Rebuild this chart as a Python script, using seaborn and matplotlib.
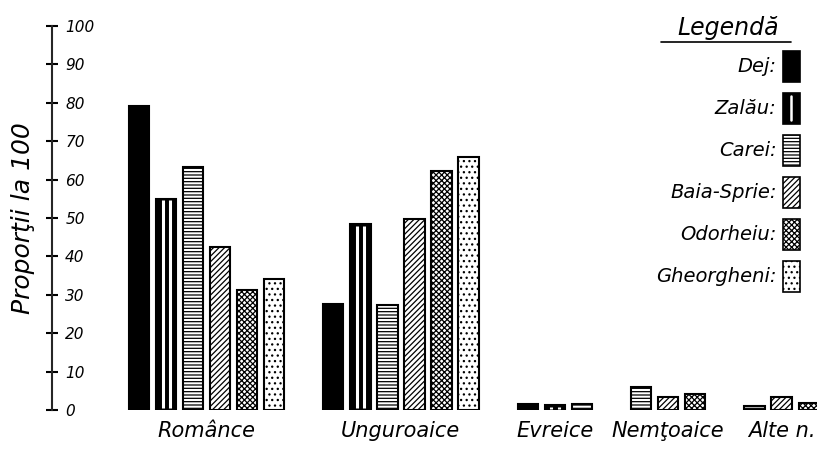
import numpy as np
import pandas as pd
import matplotlib
matplotlib.use('Agg')
import matplotlib.pyplot as plt
import seaborn as sns
from matplotlib.patches import Patch, Rectangle
from matplotlib.lines import Line2D
from matplotlib.legend_handler import HandlerPatch

# groups along the x axis
groups = ['Românce', 'Unguroaice', 'Evreice', 'Nemţoaice', 'Alte n.']
# towns (hue / legend)
towns = ['Dej', 'Zalău', 'Carei', 'Baia-Sprie', 'Odorheiu', 'Gheorgheni']

# proportion per 100 in each group, None = no bar drawn
dej        = [79.2, 27.6, 1.5, None, None]
zalau      = [55.0, 48.4, 1.2, None, None]
carei      = [63.3, 27.3, 1.5, 6.0, 1.0]
baia       = [42.4, 49.7, None, 3.5, 3.5]
odorheiu   = [31.3, 62.2, None, 4.2, 1.8]
gheorgheni = [34.1, 65.9, None, None, None]

yticks = [0, 10, 20, 30, 40, 50, 60, 70, 80, 90, 100]

values = dict(zip(towns, [dej, zalau, carei, baia, odorheiu, gheorgheni]))

#%%
# long table: only the bars that exist, packed side by side inside each group
rows = []
centers = []
slot = 0.0
gap = 1.2
for gi, g in enumerate(groups):
    start = slot
    for t in towns:
        v = values[t][gi]
        if v is None:
            continue
        rows.append({'group': g, 'town': t, 'pos': round(slot, 2), 'value': v})
        slot += 1
    centers.append((start + slot - 1) / 2)
    slot += gap
df = pd.DataFrame(rows)
pos_town = {r['pos']: r['town'] for r in rows}

#%%
sns.set_style('white')
plt.rcParams['font.family'] = ['DejaVu Sans']
plt.rcParams['font.style'] = 'italic'
plt.rcParams['hatch.linewidth'] = 0.9
for k in ['text.color', 'axes.labelcolor', 'xtick.color', 'ytick.color']:
    plt.rcParams[k] = 'black'

fig = plt.figure(figsize=(8.17, 4.5), dpi=100)
ax = fig.add_axes([52 / 817, 40 / 450, 765 / 817, 384 / 450])

sns.barplot(data=df, x='pos', y='value', hue='town', hue_order=towns,
            palette=['black'] * len(towns), native_scale=True, dodge=False,
            width=0.75, errorbar=None, legend=False, ax=ax)

styles = {
    'Dej': dict(fc='black', hatch=None),
    'Zalău': dict(fc='black', hatch=None),
    'Carei': dict(fc='white', hatch='-----'),
    'Baia-Sprie': dict(fc='white', hatch='//////'),
    'Odorheiu': dict(fc='white', hatch='xxxxxx'),
    'Gheorgheni': dict(fc='white', hatch='...'),
}

for p in ax.patches:
    x0, w, h = p.get_x(), p.get_width(), p.get_height()
    town = pos_town[round(x0 + w / 2, 2)]
    st = styles[town]
    p.set_facecolor(st['fc'])
    p.set_edgecolor('black')
    p.set_linewidth(1.5)
    p.set_hatch(st['hatch'])
    if town == 'Zalău':
        # white stripes inside the black bar
        ax.vlines([x0 + 0.33 * w, x0 + 0.7 * w], min(0.4, h * 0.3), h - min(0.4, h * 0.3),
                  color='white', lw=2.2, zorder=5)

ax.set_xlim(-3.22, 25.11)
ax.set_ylim(0, 100)
ax.set_xticks(centers)
ax.set_xticklabels(groups, fontsize=15)
ax.tick_params(axis='x', length=0, pad=8)
ax.set_xlabel('')

ax.set_yticks(yticks)
ax.set_yticklabels([str(v) for v in yticks], fontsize=11)
ax.tick_params(axis='y', direction='inout', length=9, width=1.5, pad=-14, left=True)
for lab in ax.get_yticklabels():
    lab.set_horizontalalignment('left')
ax.set_ylabel('Proporţii la 100', fontsize=18)
ax.yaxis.set_label_coords(-0.022, 0.5)

sns.despine(ax=ax, left=False, bottom=True)
ax.spines['left'].set_linewidth(1.5)
ax.spines['left'].set_bounds(0, 100)


class StripedHandler(HandlerPatch):
    def create_artists(self, legend, orig_handle, xdescent, ydescent, width, height, fontsize, trans):
        box = Rectangle((-xdescent, -ydescent), width, height, fc='black', ec='black',
                        lw=1.2, transform=trans)
        x = -xdescent + width * 0.5
        stripe = Line2D([x, x], [-ydescent + 0.12 * height, -ydescent + 0.88 * height],
                        color='white', lw=1.8, transform=trans)
        return [box, stripe]


handles = [Patch(facecolor=styles[t]['fc'], edgecolor='black', hatch=styles[t]['hatch'], lw=1.2)
           for t in towns]
labels = [t + ':' for t in towns]
leg = ax.legend(handles, labels, handler_map={handles[1]: StripedHandler()},
                loc='upper right', bbox_to_anchor=(800 / 817, 1 - 16 / 450),
                bbox_transform=fig.transFigure, frameon=False, markerfirst=False,
                handlelength=0.9, handleheight=2.1, handletextpad=0.3,
                labelspacing=0.55, borderpad=0, borderaxespad=0,
                title='Legendă', title_fontsize=17, fontsize=14)

# underline the legend title
fig.canvas.draw()
bb = leg.get_title().get_window_extent().transformed(fig.transFigure.inverted())
fig.add_artist(Line2D([bb.x0 - 0.02, bb.x1 + 0.015], [bb.y0 - 0.004, bb.y0 - 0.004],
                      color='black', lw=1.2, transform=fig.transFigure))

fig.savefig('out.png', dpi=100)
